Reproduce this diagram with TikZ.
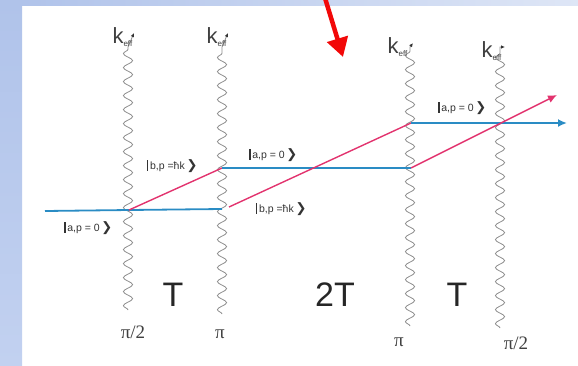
\documentclass[tikz,border=0pt]{standalone}
\usepackage{amsmath,amssymb}
\usepackage{fontspec}
\setmainfont{Liberation Sans}
\newfontfamily\piserif{Liberation Serif}
\newfontfamily\chevfont{DejaVu Sans}
\usepackage{xcolor}
\usetikzlibrary{arrows.meta,positioning,decorations.pathmorphing}
\definecolor{beamBlue}{HTML}{2A8CC4}
\definecolor{beamPink}{HTML}{E2336E}
\definecolor{waveGray}{HTML}{8E8E8E}
\definecolor{slideBlue}{HTML}{B0C3EA}
\definecolor{slideLow}{HTML}{C2D1F0}
\definecolor{slideLight}{HTML}{DEE6F6}
\definecolor{markRed}{HTML}{F20808}
\newcommand{\stateket}[1]{\rule[-1.5pt]{1.8pt}{11pt}\,#1\,{\chevfont\bfseries\fontsize{13}{13}\selectfont ❯}}

\begin{document}
\begin{tikzpicture}[x=1pt,y=-1pt,
  wave/.style={waveGray,line width=0.8pt,-{Latex[length=4pt,width=3.6pt,color=black!80]}},
  blue/.style={beamBlue,line width=1.8pt},
  pink/.style={beamPink,line width=1.4pt},
  ketlab/.style={font=\fontsize{10.5}{10.5}\selectfont,text=black!80,inner sep=0pt},
  keff/.style={font=\fontsize{22}{22}\selectfont,text=black!75,inner sep=0pt},
  tlab/.style={font=\fontsize{34}{34}\selectfont,text=black!85,inner sep=0pt},
  pilab/.style={font=\piserif\fontsize{19}{19}\selectfont,text=black!75,inner sep=0pt}]
  \useasboundingbox (0,0) rectangle (578,365);
  % slide background
  \fill[top color=slideBlue,bottom color=slideLow] (0,0) rectangle (22,365);
  \fill[left color=slideBlue,right color=slideLight] (22,0) rectangle (578,5);
  % laser pulses
  \foreach \n/\x/\bot/\tx/\ty in {1/128/310/134/33, 2/222/314/228/33, 3/410/326/413/43, 4/500/328/505/47}{
    \coordinate (w\n b) at (\x,\bot); \coordinate (w\n m) at (\x,47); \coordinate (w\n t) at (\tx,\ty);
    \draw[wave] (w\n b) decorate[decoration={snake,amplitude=4.6,segment length=14}]{-- (w\n m)} -- (w\n t);
  }
  \node[keff,left=1pt of w1t,yshift=-4pt] (k1){k\textsubscript{\fontsize{8}{8}\selectfont eff}};
  \node[keff,left=1pt of w2t,yshift=-4pt] (k2){k\textsubscript{\fontsize{8}{8}\selectfont eff}};
  \node[keff,left=5pt of w3t,yshift=-4pt] (k3){k\textsubscript{\fontsize{8}{8}\selectfont eff}};
  \node[keff,left=3pt of w4t,yshift=-4pt] (k4){k\textsubscript{\fontsize{8}{8}\selectfont eff}};
  % atomic paths
  \coordinate (in) at (45,211); \coordinate (s1) at (129,210);
  \coordinate (m1) at (222,209); \coordinate (m1p) at (229,207); \coordinate (m2) at (222,168);
  \coordinate (r1) at (411,168); \coordinate (r2) at (411,123);
  \coordinate (outb) at (567,123); \coordinate (outp) at (557,95);
  \draw[blue] (in) -- (s1) -- (m1);
  \draw[pink] (s1) -- (m2);
  \draw[blue] (m2) -- (r1);
  \draw[pink] (m1p) -- (r2);
  \draw[blue,-{Latex[length=9pt,width=8pt]}] (r2) -- (outb);
  \draw[pink,-{Latex[length=9pt,width=8pt]}] (r1) -- (outp);
  % states
  \node[ketlab] (a1) at (88,228){\stateket{a,p = 0}};
  \node[ketlab] (b1) at (172,166){\stateket{b,p =ħk}};
  \node[ketlab] (a2) at (273,155){\stateket{a,p = 0}};
  \node[ketlab] (b2) at (281,209){\stateket{b,p =ħk}};
  \node[ketlab] (a3) at (462,108){\stateket{a,p = 0}};
  % times and pulse areas
  \node[tlab] (T1) at (173,295){T};
  \node[tlab] (T2) at (335,295){2T};
  \node[tlab] (T3) at (457,295){T};
  \node[pilab] (p1) at (133,332){π/2};
  \node[pilab] (p2) at (220,334){π};
  \node[pilab] (p3) at (399,342){π};
  \node[pilab] (p4) at (516,343){π/2};
  % pointer
  \coordinate (rs) at (325,-2); \coordinate (re) at (343,57);
  \draw[markRed,line width=4.5pt,-{Triangle[length=19pt,width=21pt]}] (rs) -- (re);
\end{tikzpicture}
\end{document}
